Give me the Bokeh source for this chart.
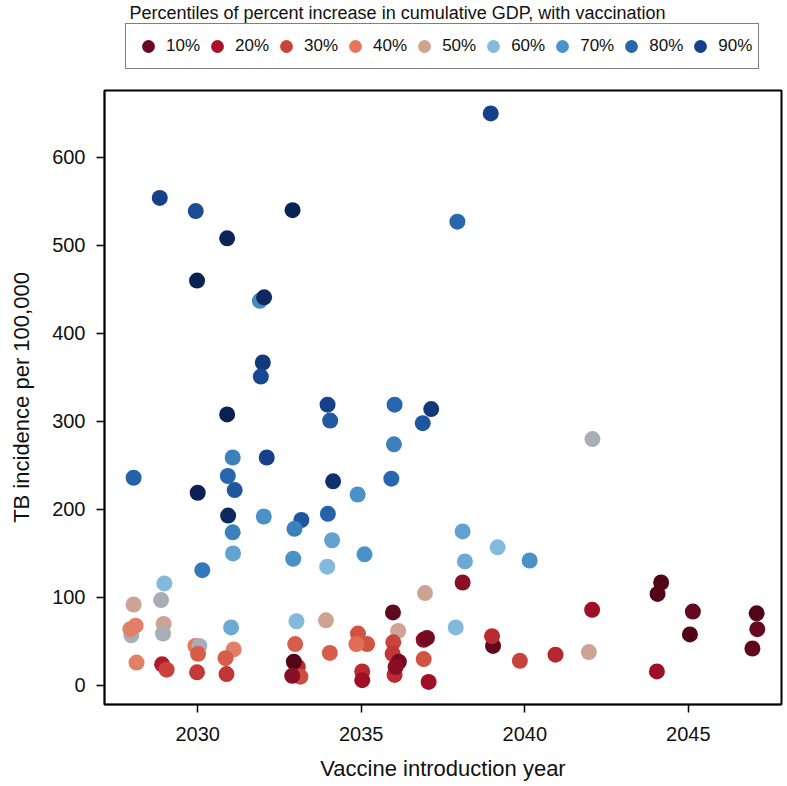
import numpy as np
from bokeh.plotting import figure
from bokeh.layouts import column
from bokeh.models import (ColumnDataSource, LinearColorMapper, Legend, LegendItem,
                          Range1d, FixedTicker, Grid)
from bokeh.embed import file_html
from bokeh.resources import INLINE

# ---- data ----
year = [2038.96, 2037.94, 2028.84, 2029.94, 2032.90, 2030.90, 2029.98, 2031.90, 2032.03, 2031.99,
        2031.93, 2030.90, 2033.97, 2034.05, 2036.02, 2037.14, 2036.88, 2036.00, 2031.07, 2032.11,
        2028.04, 2030.92, 2031.13, 2030.00, 2034.14, 2035.92, 2034.89, 2030.93, 2032.02, 2033.98,
        2033.17, 2032.96, 2031.07, 2034.11, 2031.08, 2032.92, 2035.10, 2033.96, 2030.14, 2028.98,
        2028.88, 2028.04, 2036.95, 2035.97, 2033.02, 2033.92, 2031.02, 2036.13, 2028.96, 2028.94,
        2027.97, 2027.94, 2028.10, 2028.13, 2028.91, 2029.05, 2029.93, 2030.05, 2030.01, 2029.98,
        2031.10, 2030.85, 2030.88, 2032.98, 2033.06, 2032.94, 2033.14, 2032.89, 2034.04, 2034.90,
        2035.18, 2034.85, 2035.03, 2035.03, 2035.98, 2035.96, 2036.02, 2036.15, 2036.05, 2036.91,
        2037.01, 2036.91, 2037.06, 2038.17, 2040.15, 2038.10, 2037.89, 2039.03, 2039.00, 2039.85,
        2040.94, 2041.96, 2042.06, 2044.04, 2044.17, 2044.06, 2045.14, 2045.05, 2047.09, 2047.11,
        2046.96, 2042.07, 2038.10, 2039.17]
incidence = [650, 527, 554, 539, 540, 508, 460, 437, 441, 367,
             351, 308, 319, 301, 319, 314, 298, 274, 259, 259,
             236, 238, 222, 219, 232, 235, 217, 193, 192, 195,
             188, 178, 174, 165, 150, 144, 149, 135, 131, 116,
             97, 92, 105, 83, 73, 74, 66, 62, 70, 59,
             57, 64, 68, 26, 24, 18, 45, 45, 36, 15,
             41, 31, 13, 47, 21, 27, 10, 11, 37, 59,
             47, 47, 16, 6, 49, 36, 12, 27, 21, 52,
             54, 30, 4, 141, 142, 117, 66, 45, 56, 28,
             35, 38, 86, 16, 117, 104, 84, 58, 82, 64,
             42, 280, 175, 157]
gdp_percentile = [90, 80, 90, 87, 98, 97, 98, 72, 96, 92,
                  88, 98, 90, 83, 80, 92, 84, 74, 74, 90,
                  81, 80, 84, 98, 94, 80, 70, 96, 70, 81,
                  84, 74, 74, 66, 66, 70, 70, 60, 76, 60,
                  55, 50, 50, 8, 60, 50, 64, 50, 50, 55,
                  55, 42, 42, 42, 22, 30, 40, 55, 35, 28,
                  42, 35, 27, 35, 25, 5, 32, 15, 35, 33,
                  33, 38, 25, 18, 30, 27, 25, 12, 15, 15,
                  12, 33, 18, 64, 70, 15, 60, 8, 25, 30,
                  24, 50, 18, 18, 5, 5, 9, 5, 5, 9,
                  8, 55, 66, 60]

legend_labels = ["10%", "20%", "30%", "40%", "50%", "60%", "70%", "80%", "90%"]
legend_levels = [10, 20, 30, 40, 50, 60, 70, 80, 90]
x_ticks = [2030, 2035, 2040, 2045]
y_ticks = [0, 100, 200, 300, 400, 500, 600]

# colour gradient anchors (percentile -> colour)
anchor_levels = [0, 10, 20, 30, 40, 50, 60, 70, 80, 90, 100]
anchor_colors = ["#3f0010", "#690a22", "#ac1227", "#c8443b", "#e6775b", "#cfa392",
                 "#82b9dc", "#4a92c8", "#2866ad", "#16418a", "#071a45"]


def hex_to_rgb(h):
    h = h.lstrip("#")
    return [int(h[i:i + 2], 16) for i in (0, 2, 4)]


rgb = np.array([hex_to_rgb(c) for c in anchor_colors], dtype=float)
grid = np.linspace(0, 100, 256)
palette = []
for g in grid:
    r = np.interp(g, anchor_levels, rgb[:, 0])
    gg = np.interp(g, anchor_levels, rgb[:, 1])
    b = np.interp(g, anchor_levels, rgb[:, 2])
    palette.append("#%02x%02x%02x" % (int(round(r)), int(round(gg)), int(round(b))))
mapper = LinearColorMapper(palette=palette, low=0, high=100)

FONT = "Liberation Sans"
W = 787
LEG_H = 80
MAIN_H = 786 - LEG_H
BL, BR, BT, BB = 104, 6, 10, 82

# ---------- legend strip (title + boxed legend) ----------
lf = figure(output_backend="svg", toolbar_location=None, width=W, height=LEG_H,
            min_border_left=BL, min_border_right=BR, min_border_top=0, min_border_bottom=0,
            x_axis_location=None, y_axis_location=None,
            x_range=Range1d(0, 1), y_range=Range1d(0, 1),
            title="Percentiles of percent increase in cumulative GDP, with vaccination")
lf.outline_line_color = None
for obj in list(lf.center):
    if isinstance(obj, Grid):
        obj.visible = False
        obj.grid_line_color = None
lf.title.text_font = FONT
lf.title.text_font_size = "18px"
lf.title.text_font_style = "normal"
lf.title.text_color = "#111111"
lf.title.align = "left"
lf.title.offset = 25
lf.title.standoff = 0

items = []
for lab, lev in zip(legend_labels, legend_levels):
    col = anchor_colors[anchor_levels.index(lev)]
    r = lf.scatter(x=[np.nan], y=[np.nan], size=13, fill_color=col, line_color=None)
    items.append(LegendItem(label=lab, renderers=[r]))

legend = Legend(items=items, orientation="horizontal", location=(21, 11),
                border_line_color="black", border_line_width=1.5,
                label_text_font=FONT, label_text_font_size="17px",
                label_text_color="#111111",
                glyph_width=32, glyph_height=32, label_standoff=2, spacing=1,
                padding=6, margin=0, label_height=32)
lf.add_layout(legend, "center")

# ---------- main scatter ----------
p = figure(output_backend="svg", toolbar_location=None,
           width=W, height=MAIN_H,
           min_border_left=BL, min_border_right=BR, min_border_top=BT, min_border_bottom=BB,
           x_range=Range1d(2027.15, 2047.85), y_range=Range1d(-21.6, 676))

src = ColumnDataSource(dict(x=year, y=incidence, pctl=gdp_percentile))
p.scatter("x", "y", source=src, size=16, line_color=None,
          fill_color={"field": "pctl", "transform": mapper})

p.xgrid.visible = False
p.ygrid.visible = False
p.outline_line_color = "black"
p.outline_line_width = 2

for ax in (p.xaxis[0], p.yaxis[0]):
    ax.axis_line_color = "black"
    ax.axis_line_width = 1.5
    ax.major_tick_line_color = "black"
    ax.major_tick_line_width = 1.5
    ax.major_tick_out = 8
    ax.major_tick_in = 0
    ax.minor_tick_line_color = None
    ax.major_label_text_font = FONT
    ax.major_label_text_font_size = "20px"
    ax.major_label_text_color = "#111111"
    ax.axis_label_text_font = FONT
    ax.axis_label_text_font_size = "22px"
    ax.axis_label_text_font_style = "normal"
    ax.axis_label_text_color = "#111111"

p.xaxis.ticker = FixedTicker(ticks=x_ticks)
p.yaxis.ticker = FixedTicker(ticks=y_ticks)
p.xaxis.axis_label = "Vaccine introduction year"
p.yaxis.axis_label = "TB incidence per 100,000"
p.xaxis.major_label_standoff = 14
p.xaxis.axis_label_standoff = 12
p.yaxis.major_label_standoff = 11
p.yaxis.axis_label_standoff = 15

layout = column(lf, p, spacing=0)
open("out.html", "w").write(file_html(layout, INLINE))
